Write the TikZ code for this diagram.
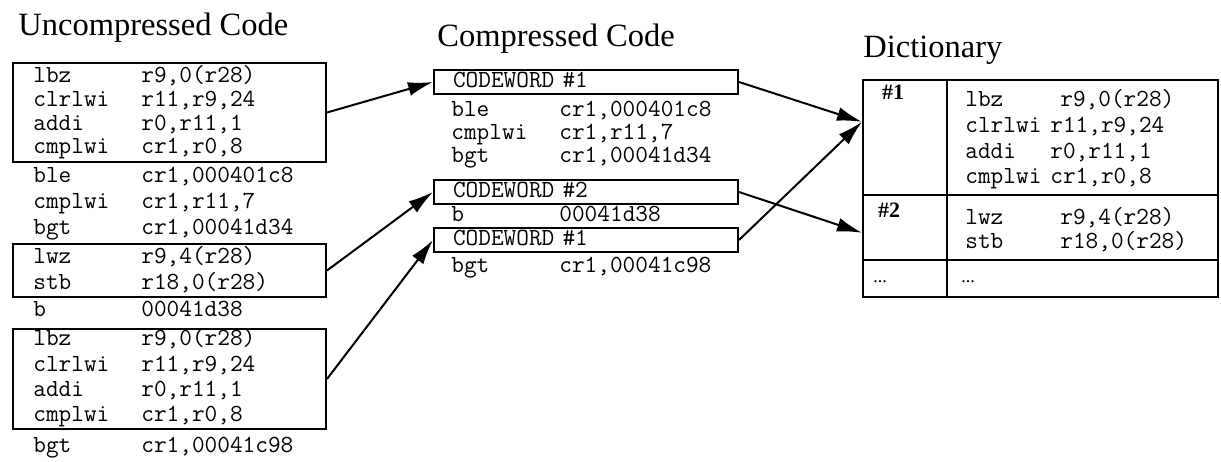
\documentclass[tikz,border=0pt]{standalone}
\usepackage{fontspec}
\setmainfont{Liberation Serif}
\usetikzlibrary{arrows.meta,fit}

\newlength{\mncol}
\setlength{\mncol}{54pt}
% mnemonic padded to a fixed column, then the operands
\newcommand{\ins}[3][\mncol]{\makebox[#1][l]{#2}#3}

\begin{document}
\begin{tikzpicture}[x=0.5pt,y=0.5pt,
  title/.style={anchor=base west,inner sep=0pt,font=\fontsize{16.25}{19}\selectfont},
  code/.style={anchor=west,inner sep=0pt,text height=8pt,text depth=2.5pt,
    font=\ttfamily\fontsize{12.3}{14}\selectfont},
  codebox/.style={draw,line width=1pt,inner sep=0pt},
  cwbox/.style={code,codebox,inner xsep=9.5pt,text width=133pt,minimum height=12pt,align=left},
  tag/.style={inner sep=0pt,font=\bfseries\fontsize{11}{12}\selectfont},
  link/.style={line width=1pt,-{Latex[length=12.5pt,width=7pt]}}]
  \useasboundingbox (0,0) rectangle (1221,-461);

  \node[title] (tu) at (18,-35) {Uncompressed Code};
  \node[title] (tc) at (437,-46) {Compressed Code};
  \node[title] (td) at (863,-57) {Dictionary};

  % uncompressed code
  \foreach \y/\mn/\op [count=\i] in {77/lbz/{r9,0(r28)},101/clrlwi/{r11,r9,24},
      125/addi/{r0,r11,1},148/cmplwi/{cr1,r0,8},177/ble/{cr1,000401c8},
      203/cmplwi/{cr1,r11,7},229/bgt/{cr1,00041d34},258/lwz/{r9,4(r28)},
      284/stb/{r18,0(r28)},311/b/00041d38,340/lbz/{r9,0(r28)},
      366/clrlwi/{r11,r9,24},391/addi/{r0,r11,1},416/cmplwi/{cr1,r0,8},
      447/bgt/{cr1,00041c98}}
    \node[code] (u\i) at (33,-\y) {\ins{\mn}{\op}};
  \node[codebox,fit={(13,-63)(326,-162)}] (ublk1) {};
  \node[codebox,fit={(13,-244)(326,-297)}] (ublk2) {};
  \node[codebox,fit={(13,-329)(326,-429)}] (ublk3) {};

  % compressed code
  \node[cwbox] (cw1) at (433,-82) {CODEWORD \#1};
  \node[cwbox] (cw2) at (433,-192) {CODEWORD \#2};
  \node[cwbox] (cw3) at (433,-240) {CODEWORD \#1};
  \foreach \y/\mn/\op [count=\i] in {111/ble/{cr1,000401c8},134/cmplwi/{cr1,r11,7},
      157/bgt/{cr1,00041d34},216/b/00041d38,267/bgt/{cr1,00041c98}}
    \node[code] (c\i) at (451,-\y) {\ins{\mn}{\op}};

  % dictionary
  \node[codebox,fit={(863,-80)(947,-195)}] (d1key) {};
  \node[codebox,fit={(947,-80)(1218,-195)}] (d1val) {};
  \node[codebox,fit={(863,-195)(947,-260)}] (d2key) {};
  \node[codebox,fit={(947,-195)(1218,-260)}] (d2val) {};
  \node[codebox,fit={(863,-260)(947,-297)}] (d3key) {};
  \node[codebox,fit={(947,-260)(1218,-297)}] (d3val) {};
  \node[tag] (k1) at (893,-92) {\#1};
  \node[tag] (k2) at (889,-210) {\#2};
  \node[tag,font=\fontsize{9}{10}\selectfont] (k3) at (880,-282) {...};
  \node[tag,font=\fontsize{9}{10}\selectfont] (v3) at (968,-282) {...};
  \foreach \y/\w/\mn/\op [count=\i] in {101/47.5pt/lbz/{r9,0(r28)},
      127/42.5pt/clrlwi/{r11,r9,24},153/42.5pt/addi/{r0,r11,1},
      178/42.5pt/cmplwi/{cr1,r0,8},219/47.5pt/lwz/{r9,4(r28)},
      243/47.5pt/stb/{r18,0(r28)}}
    \node[code] (dv\i) at (965,-\y) {\ins[\w]{\mn}{\op}};

  \draw[link] (ublk1.east) -- (cw1.west);
  \draw[link] (ublk2.east) -- (cw2.west);
  \draw[link] (ublk3.east) -- (cw3.west);
  \draw[link] (cw1.east) -- (d1key.160);
  \draw[link] (cw3.east) -- (d1key.160);
  \draw[link] (cw2.east) -- (d2key.187);
\end{tikzpicture}
\end{document}
